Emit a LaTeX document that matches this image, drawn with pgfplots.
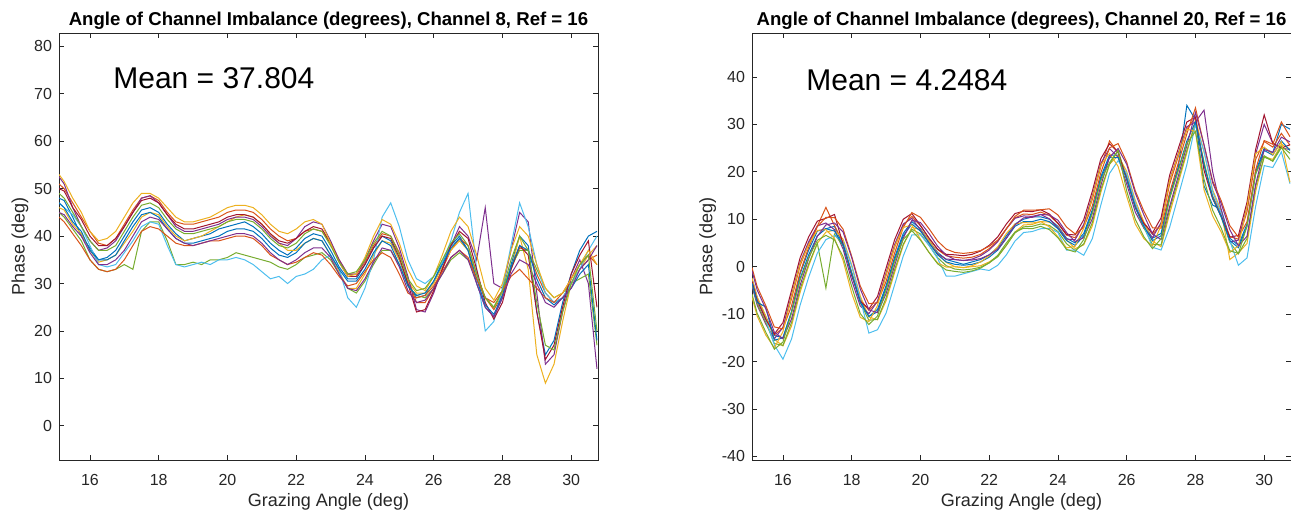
\documentclass[border=0pt]{standalone}
\usepackage{fontspec}
\setmainfont{Liberation Sans}
\usepackage{pgfplots}
\usepackage{pgfplotstable}
\pgfplotsset{compat=1.18}

\definecolor{mA}{rgb}{0,0.447,0.741}
\definecolor{mB}{rgb}{0.85,0.325,0.098}
\definecolor{mC}{rgb}{0.929,0.694,0.125}
\definecolor{mD}{rgb}{0.494,0.184,0.556}
\definecolor{mE}{rgb}{0.466,0.674,0.188}
\definecolor{mF}{rgb}{0.301,0.745,0.933}
\definecolor{mG}{rgb}{0.635,0.078,0.184}
\definecolor{axgray}{rgb}{0.15,0.15,0.15}

\pgfplotscreateplotcyclelist{matlab}{
{mA},{mB},{mC},{mD},{mE},{mF},{mG},{mA},{mB},{mC},{mD},{mE}}

% Channel 8
\pgfplotstableread{
x c1 c2 c3 c4 c5 c6 c7 c8 c9 c10 c11 c12
15.1 48 51 46 52.5 45 47 50 47 44 53 45 49
15.25 47.5 50 45.5 51 44 46 49.5 46 43 51.5 44.5 48
15.5 44 47 42.5 46 41.5 44.5 46 43 40.5 48 42 45
15.75 40 44 40.5 42 39 42 43.5 41 38 45 40 42
16.0 37.5 41 37 39 35 38 40 37 35 41 36.5 39
16.25 35 38.5 34.5 37 33 34 38 35 33 39 34 37
16.5 35.5 38 35 37.5 32.5 33.5 38 35 32.5 39.5 34 37
16.75 37 39.5 36 39 33 34 39.5 36 33 41 35 38
17.0 40 42.5 38.5 42 34 36.5 42 39 35 44 37 41
17.25 43 45.5 41 45 33 39 45 42 38 47 40 44
17.5 45.5 48 44 48 41 42 47.5 44.5 41 49 43 46.5
17.75 46 48.5 45 48.5 43 43 48 45 42 49 44 47
18.0 45 47.5 44.5 47 43 42.5 47 44 41.5 48 43.5 46
18.25 42.5 45 42 44.5 39 38 44.5 41.5 40 46 41.5 43.5
18.5 40.5 43 40 42 34 34 42.5 39.5 38.5 44 39.5 41.5
18.75 39 42.5 39 41 34 33.5 41.5 38.5 38 43 38.5 40.5
19.0 39.5 42.5 39.5 41 34.5 34 41.5 38.5 38 43 38 40.5
19.25 40 43 40 41.5 34 34.5 42 39 38.5 43.5 38.5 41
19.5 40.5 43.5 41 42 35 34 42.5 39.5 39 44 39 41.5
19.75 41.5 44 42 42.5 35 35 43 40 39 45 39.5 42
20.0 42 45 43 43.5 35.5 35 44 41 39.5 46 40 43
20.25 42.5 45.5 44 44 36.5 35.5 44.5 41.5 40 46.5 40.5 43.5
20.5 43 45.5 44.5 44 36 35 44.5 41.5 40 46.5 40.5 43.5
20.75 42 45 44 43.5 35.5 34 44 41 39.5 46 40 43
21.0 40.5 43.5 42.5 42 35 32.5 42.5 39.5 38 44.5 38.5 41.5
21.25 38.5 41.5 40.5 40 34.5 31 40.5 37.5 36 42.5 36.5 39.5
21.5 37 40 38.5 38.5 33.5 31.5 39 36 35 41 35 38
21.75 36 39 37 38 33 30 38.5 35.5 34 40.5 34 37.5
22.0 37.5 39.5 37 39.5 34 31.5 39.5 36.5 34.5 41.5 35 38.5
22.25 39.5 41 38.5 42 35.5 32 41 38.5 35.5 43 36.5 40.5
22.5 40.5 41.5 39.5 43 36 33 42 39.5 36.5 43.5 37.5 41.5
22.75 40 41 39 42.5 36.5 35 41.5 39 36 42.5 37.5 41
23.0 37 38.5 36 39 35 36 38.5 36 34 38.5 35.5 38
23.25 33.5 35 32.5 35 32 33 34.5 33 31.5 34.5 32 34.5
23.5 31 32 29 32 29 27 31.5 30.5 29.5 31.5 29 32
23.75 31 32 29 32 28 25 31.5 30.5 30 32 28.5 32.5
24.0 34 34.5 32 35 30.5 29 34 33 32.5 35.5 31 35
24.25 37.5 38 36 39 34 35 37.5 36.5 35 40 34.5 38.5
24.5 40 40.5 39 42.5 37 44 40 39 36.5 43.5 37.5 41
24.75 39 40 38.5 42 37 47 39.5 38 35.5 42.5 37 40
25.0 35 36.5 35 37.5 34 42 35.5 34 32 38.5 33.5 36
25.25 30 31 30.5 31.5 29.5 35 30 29.5 28 33 28.5 31
25.5 27 26 28 24.5 27.5 31 24 27.5 27 29.5 26 28.5
25.75 27.5 26 28 24 27 30 24.5 28 27.5 28.5 26.5 29
26.0 30.5 29 30 28 29 31.5 28.5 30.5 29.5 31.5 29 31.5
26.25 34.5 33 33.5 33 32 34.5 33 34 32.5 36 32 35
26.5 38 37 37 38 35 39 38 37.5 35.5 41 35.5 38.5
26.75 40 39.5 39 42 36.5 45 41 39.5 37 44 37 40.5
27.0 37 38 37 40 35 49 39.5 37 35.5 42 35 38
27.25 30 32 32 35 31 33 33 31 31 36 30 32
27.5 25 27 27 46 27 20 26 25.5 27 29 25 27
27.75 23 24.5 25 30 25 22 22.5 23.5 26 26.5 23 25
28.0 27 27.5 28 29 28.5 29 26 27.5 28.5 30 27 28.5
28.25 34 33 33 37 33.5 38 33 33.5 31.5 37 32 35
28.5 40 37.5 40 45 37 47 38 38 33 42 35 40
28.75 38 37 33 43 37 42 36 37 31 40 34 37
29.0 24 32 15 28 33 34 24 31 29 34 30 26
29.25 15 28 9 13 29 28 14 27 27 29 26 17
29.5 18 26 13 15 27 26 17 25.5 26 27 25 16
29.75 26 27 22 24 28 27 25 27 28 28 27 24
30.0 32 30 30 31 30 30 32 29 31 31 29 30
30.25 37 33 33 35 31 33 36 32 34 34 33 34
30.5 40 35 36 30 32 37 39 34 36 37 35 36
30.75 41 36 38 12 17 40 25 18 34 34 38 20
}\chaneight

% Channel 20
\pgfplotstableread{
x c1 c2 c3 c4 c5 c6 c7 c8 c9 c10 c11 c12
15.1 -2.5 -2.8 -2.4 -4.1 -3.7 -3.1 -3.1 -3.5 -0.2 -6.4 -0.9 -5.8
15.25 -6.5 -6.8 -6.4 -8.1 -7.7 -7.1 -7.1 -7.5 -4.2 -10.4 -4.9 -9.8
15.5 -10.5 -10.8 -10.4 -12.1 -11.7 -11.1 -11.1 -8.5 -8.2 -14.4 -8.9 -13.8
15.75 -14.5 -14.4 -15.3 -15.2 -16.2 -16.5 -14.2 -15.5 -12.7 -17.1 -13.8 -17.4
16.0 -15 -12.9 -16.7 -12.8 -16.6 -19.5 -11.8 -15 -13.1 -13.7 -15.2 -15.9
16.25 -9.5 -6.75 -12.5 -6 -11.75 -15.25 -5 -9.5 -8.25 -6.25 -11 -9.75
16.5 -1.5 0.2 -5.4 0.9 -4.7 -8.1 1.9 -2.5 -1.2 0.6 -3.9 -2.8
16.75 3.5 4.9 0.2 5.3 0.6 -2.2 6.3 2.5 4.1 4.7 1.7 1.9
17.0 7.5 8.55 4.9 8.6 4.95 2.85 9.6 6.5 8.45 7.65 6.4 5.55
17.25 8 12.5 7.3 9.2 -4.5 5.7 10.2 8 10.4 7.8 8.8 6.6
17.5 8.5 8.65 7.7 7.8 6.85 6.55 11 7.5 10.35 5.95 9.2 5.65
17.75 4.5 5.1 5.8 3.7 4.4 5.2 4.7 4.5 7.9 1.3 7.3 2.1
18.0 -1.5 -1.2 0.4 -2.9 -1.3 0.1 -1.9 -1.5 2.2 -5.6 1.9 -4.2
18.25 -7 -6.9 -6.2 -8.3 -7.6 -6.8 -7.3 -7.5 -4.1 -10.7 -4.7 -9.9
18.5 -10.5 -9.2 -10.6 -9.9 -11.3 -14 -8.9 -10.5 -7.8 -11.6 -9.1 -12.2
18.75 -9 -7.4 -11.2 -7.3 -11.1 -13.3 -6.3 -9.5 -7.6 -8.2 -9.7 -10.4
19.0 -4 -1.9 -7.2 -1.3 -6.6 -9.8 -0.3 -4.5 -3.1 -1.7 -5.7 -4.9
19.25 2 4.1 -1.2 4.7 -0.6 -3.8 5.7 1.5 2.9 4.3 0.3 1.1
19.5 7 8.75 4.5 9 4.75 2.25 10 6.5 8.25 8.25 6 5.75
19.75 9.5 10.6 8.3 10.2 7.9 6.7 11.2 9 11.4 8.8 9.8 7.6
20.0 8 8.6 7.8 7.7 6.9 6.7 8.7 7.5 10.4 5.8 9.3 5.6
20.25 5.5 6 5.5 5 4.5 4.5 6 5 8 3 7 3
20.5 3 3.6 2.8 2.7 1.9 1.7 3.7 2.5 5.4 0.8 4.3 0.6
20.75 1.5 2.3 0.9 1.6 0.2 -2 2.6 1 3.7 -0.1 2.4 -0.7
21.0 1 2 0 1.5 -0.5 -2 2.5 0.5 3 0 1.5 -1
21.25 0.5 1.8 -0.2 1.3 -0.7 -1.5 2.3 0.3 2.8 -0.2 1.3 -1.2
21.5 1 2 0 1.6 -0.5 -1 2.6 0.5 3 0.2 1.4 -0.9
21.75 1.5 2.6 0.2 2.3 -0.1 -0.5 3.3 1 3.4 1 1.7 -0.3
22.0 2.5 3.8 1 3.5 0.8 -0.8 4.5 2 4.3 2.3 2.5 0.8
22.25 4 5.4 2.2 5.3 2.1 0.3 6.3 3.5 5.6 4.2 3.7 2.4
22.5 6.5 8 4.5 8 4.5 2.5 9 6 8 7 6 5
22.75 9 10.3 7.3 10.2 7.1 5.4 11.2 8.5 10.6 9 8.8 7.3
23.0 10 11.1 8.8 10.7 8.4 7.2 11.7 9.5 11.9 9.3 10.3 8.1
23.25 10.5 11 8.9 10.6 8.5 7.4 11.6 9.5 11.9 9.2 10.4 8
23.5 10.5 11.5 9.5 11 9 8 12 10 12 9.5 11 8.5
23.75 10 10.8 9.4 10.1 8.7 8.1 11.1 9.5 12.2 8.4 10.9 7.8
24.0 8.5 9.1 8.3 8.2 7.4 7.2 9.2 8 10.9 6.3 9.8 6.1
24.25 6 6.65 5.7 5.8 4.85 3.5 6.8 5.5 8.35 3.95 7.2 3.65
24.5 5 6.1 3.8 5.7 3.4 3.5 6.7 4.5 6.9 4.3 5.3 3.1
24.75 7 8.7 4.6 8.9 4.8 2.4 9.9 6.5 8.3 8.1 6.1 5.7
25.0 12 14.2 8.6 14.9 9.3 5.9 15.9 11.5 12.8 14.6 10.1 11.2
25.25 19 21.15 15.7 21.8 16.35 13.05 22.8 18.5 19.85 21.45 17.2 18.15
25.5 23.5 26.5 21.6 24.9 21.55 19.65 25.9 23 25.05 23.85 23.1 21.95
25.75 23.5 24.05 23.4 23.1 24.5 22.35 24.1 23 25.95 21.15 24.9 24.5
26.0 19 18.95 20.1 17.4 18.55 19.65 18.4 18.5 22.05 14.85 21.6 15.95
26.25 13 13 14 11.5 12.5 13.5 12.5 12.5 16 9 15.5 10
26.5 9 9.3 9.4 8.1 8.2 8.6 9.1 8.5 11.7 5.9 10.9 6.3
26.75 6 6.8 5.4 6.1 4.7 4.1 7.1 5.5 8.2 4.4 6.9 3.8
27.0 7 8.9 4.2 9.3 4.6 3.5 10.3 6.5 8.1 8.7 5.7 5.9
27.25 15 17.4 11.2 18.3 12.1 8.3 19.3 14.5 15.6 18.2 12.7 14.4
27.5 21 23.2 17.6 23.9 18.3 14.9 24.9 20.5 21.8 23.6 19.1 20.2
27.75 34 29 24 29.5 24.5 21.5 30.5 26.5 28 29 25.5 26
28.0 31 31.5 31 30.5 30 30 31.5 30.5 33.5 28.5 32.5 28.5
28.25 17 21.4 24.2 33 22.1 24.3 20.3 21.5 25.6 16.2 25.7 18.4
28.5 13 14.9 16.2 20 14.6 15.8 14.3 14.5 18.1 10.7 17.7 11.9
28.75 12 11.1 11.8 12 10.4 11.2 10.7 10.5 13.9 7.3 13.3 8.1
29.0 6 6.35 1.5 5.2 5.15 5.45 6.2 5.5 8.65 3 7.8 3.35
29.25 4.5 5.8 2.9 5.6 2.7 0.3 6.6 4 6.2 4.4 4.4 2.8
29.5 9 11.55 4.9 12.6 5.95 1.85 13.6 8.5 9.45 12.65 6.4 8.55
29.75 20 22.6 15.8 23.7 16.9 12.7 24.7 19.5 20.4 23.8 17.3 19.6
30.0 25 26.4 23.2 30 23.1 21.3 32 24.5 26.6 25.2 24.7 23.4
30.25 24 25.2 22.6 26 22.3 20.9 26 23.5 25.8 23.6 24.1 22.2
30.5 30 28.1 25.8 25 25.4 24.2 25 26.5 30.5 26.3 27.3 25.1
30.75 29 25.6 24.8 24.7 23.9 17.5 25.7 24.5 27.4 17.8 26.3 22.6
}\chantwenty

\pgfplotsset{
  mpanel/.style={
    scale only axis, width=269.5pt, height=213.5pt,
    anchor=south west,
    xmin=15.1, xmax=30.78,
    xtick={16,18,...,30},
    axis line style={axgray, line width=0.4pt},
    tick style={axgray, line width=0.4pt},
    major tick length=2.5pt,
    tick align=inside,
    tick label style={text=axgray, font=\fontsize{8}{9}\selectfont},
    xticklabel style={yshift=-3.5pt},
    /pgf/number format/assume math mode=true,
    title style={font=\bfseries\fontsize{9.3}{10}\selectfont, yshift=-7.5pt},
    label style={text=axgray, font=\fontsize{9}{10}\selectfont},
    xlabel shift=-3pt,
    ylabel shift=-4pt,
    xlabel={Grazing Angle (deg)},
    ylabel={Phase (deg)},
    cycle list name=matlab,
    every axis plot/.append style={line width=0.5pt, no marks},
  }
}

\begin{document}
\begin{tikzpicture}
\path[use as bounding box] (0,0) rectangle (645.5pt,258pt);

\begin{axis}[mpanel, at={(29.5pt,28pt)},
    ymin=-7.196, ymax=82.804, ytick={0,10,...,80},
    title={Angle of Channel Imbalance (degrees), Channel 8, Ref = 16}]
\pgfplotsinvokeforeach{1,...,12}{
  \addplot table[x=x, y=c#1]{\chaneight};
}
\node[anchor=west, inner sep=0pt, font=\fontsize{15}{17}\selectfont] at (axis cs:16.67,73.3) {Mean = 37.804};
\end{axis}

\begin{axis}[mpanel, at={(376pt,28pt)},
    ymin=-40.75, ymax=49.25, ytick={-40,-30,...,40},
    title={Angle of Channel Imbalance (degrees), Channel 20, Ref = 16}]
\pgfplotsinvokeforeach{1,...,12}{
  \addplot table[x=x, y=c#1]{\chantwenty};
}
\node[anchor=west, inner sep=0pt, font=\fontsize{15}{17}\selectfont] at (axis cs:16.67,39.3) {Mean = 4.2484};
\end{axis}
\end{tikzpicture}
\end{document}
